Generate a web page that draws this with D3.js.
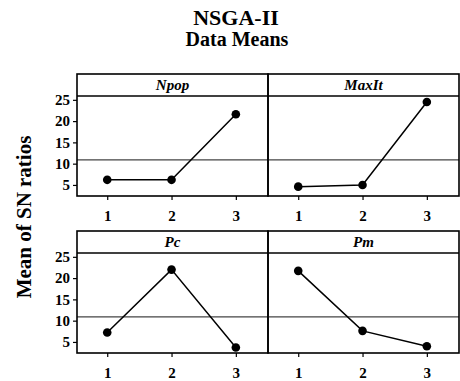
<!DOCTYPE html>
<html>
<head>
<meta charset="utf-8">
<script src="https://cdn.jsdelivr.net/npm/d3@7"></script>
<style>
  body { margin: 0; background: #fff; }
  svg text { font-family: "Liberation Serif", "Times New Roman", "DejaVu Serif", serif !important; font-weight: bold; fill: #000; }
</style>
</head>
<body>
<svg id="chart"></svg>
<script>
// data
const factors = ['Npop', 'MaxIt', 'Pc', 'Pm'];
const levels = [1, 2, 3];
const npopMeans = [6.2, 6.2, 21.6];
const maxItMeans = [4.6, 5.0, 24.5];
const pcMeans = [7.2, 22.0, 3.7];
const pmMeans = [21.7, 7.6, 4.0];
const yTicks = [5, 10, 15, 20, 25];
const grandMean = 10.9;

const series = [npopMeans, maxItMeans, pcMeans, pmMeans];

const width = 460, height = 381;
const left = 77, colW = 191;
const rowTops = [74, 231];
const stripH = 22, plotH = 100;
const serif = '"Liberation Serif", "Times New Roman", serif';

const svg = d3.select('#chart').attr('width', width).attr('height', height);

svg.append('text')
  .attr('x', 236).attr('y', 25)
  .attr('text-anchor', 'middle')
  .style('font-size', '22px')
  .text('NSGA-II');
svg.append('text')
  .attr('x', 237).attr('y', 46)
  .attr('text-anchor', 'middle')
  .style('font-size', '20px')
  .text('Data Means');

svg.append('text')
  .attr('transform', 'translate(31,217) rotate(-90)')
  .attr('text-anchor', 'middle')
  .style('font-size', '21px')
  .text('Mean of SN ratios');

const x = d3.scaleLinear().domain([0.53, 3.5]).range([0, colW]);
const y = d3.scaleLinear().domain([2.4, 25.9]).range([plotH, 0]);

const line = d3.line()
  .x((d, i) => x(levels[i]))
  .y(d => y(d));

factors.forEach((name, k) => {
  const col = k % 2, row = Math.floor(k / 2);
  const g = svg.append('g')
    .attr('transform', `translate(${left + col * colW},${rowTops[row]})`);
  const p = g.append('g').attr('transform', `translate(0,${stripH})`);

  // grand mean reference line
  p.append('line')
    .attr('x1', 0).attr('x2', colW)
    .attr('y1', y(grandMean)).attr('y2', y(grandMean))
    .attr('stroke', '#444').attr('stroke-width', 1.2);

  p.append('path')
    .datum(series[k])
    .attr('d', line)
    .attr('fill', 'none')
    .attr('stroke', '#000')
    .attr('stroke-width', 1.5);

  p.selectAll('circle')
    .data(series[k])
    .join('circle')
    .attr('cx', (d, i) => x(levels[i]))
    .attr('cy', d => y(d))
    .attr('r', 4.3)
    .attr('fill', '#000');

  // strip + frame
  g.append('rect')
    .attr('x', 0).attr('y', 0)
    .attr('width', colW).attr('height', stripH + plotH)
    .attr('fill', 'none')
    .attr('stroke', '#000').attr('stroke-width', 1.6);
  g.append('line')
    .attr('x1', 0).attr('x2', colW)
    .attr('y1', stripH).attr('y2', stripH)
    .attr('stroke', '#000').attr('stroke-width', 1.4);
  g.append('text')
    .attr('x', colW / 2).attr('y', stripH - 6)
    .attr('text-anchor', 'middle')
    .style('font-size', '15px')
    .style('font-style', 'italic')
    .text(name);

  // x axis
  const xa = p.append('g')
    .attr('transform', `translate(0,${plotH})`)
    .call(d3.axisBottom(x).tickValues(levels).tickFormat(d3.format('d')).tickSize(4).tickPadding(10));
  xa.attr('font-family', serif).attr('font-size', 15);
  xa.select('.domain').remove();
  xa.selectAll('text').style('font-size', '15px').style('font-family', serif);
  xa.selectAll('line').attr('stroke-width', 1.2);

  if (col === 0) {
    const ya = p.append('g')
      .call(d3.axisLeft(y).tickValues(yTicks).tickSize(4).tickPadding(3));
    ya.attr('font-family', serif).attr('font-size', 15);
    ya.select('.domain').remove();
    ya.selectAll('text').style('font-size', '15px').style('font-family', serif);
    ya.selectAll('line').attr('stroke-width', 1.2);
  }
});
</script>
</body>
</html>
